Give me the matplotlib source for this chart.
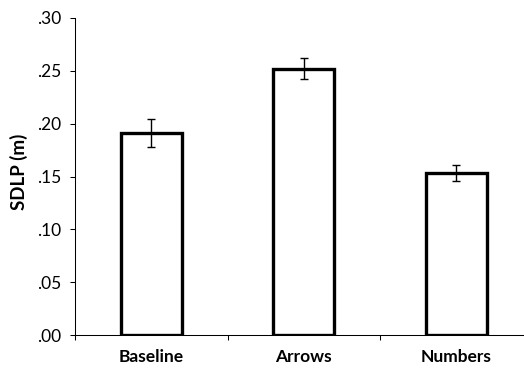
import matplotlib
matplotlib.use("Agg")
import matplotlib.pyplot as plt
from matplotlib.ticker import FixedLocator

plt.rcParams['font.family'] = ['Lato', 'DejaVu Sans']

# data
conditions = ['Baseline', 'Arrows', 'Numbers']
sdlp_mean = [0.191, 0.252, 0.153]
sdlp_err = [0.013, 0.010, 0.0077]
yticks = [0.00, 0.05, 0.10, 0.15, 0.20, 0.25, 0.30]
ytick_labels = ['.00', '.05', '.10', '.15', '.20', '.25', '.30']

fig = plt.figure(figsize=(5.24, 3.70), dpi=100)
ax = fig.add_axes([75 / 524, 35 / 370, 457.5 / 524, 317 / 370])

x = list(range(len(conditions)))
ax.bar(x, sdlp_mean, width=0.4, color='white', edgecolor='black',
       linewidth=2.4, zorder=2)
ax.errorbar(x, sdlp_mean, yerr=sdlp_err, fmt='none', ecolor='black',
            elinewidth=1.0, capsize=3.0, capthick=1.0, zorder=3)

ax.set_xlim(-0.5, 2.5)
ax.set_ylim(0, 0.30)
ax.set_yticks(yticks)
ax.set_yticklabels(ytick_labels)
ax.set_xticks(x)
ax.set_xticklabels(conditions, fontweight='bold')
ax.xaxis.set_minor_locator(FixedLocator([-0.5, 0.5, 1.5, 2.5]))

ax.tick_params(axis='x', which='major', length=0, pad=10, labelsize=12.5)
ax.tick_params(axis='x', which='minor', length=3.6, width=0.75,
               direction='out')
ax.tick_params(axis='y', length=3.6, width=0.75, pad=6.5, labelsize=12.5,
               direction='out')

ax.spines['top'].set_visible(False)
ax.spines['right'].set_visible(False)
for side in ['left', 'bottom']:
    ax.spines[side].set_linewidth(0.75)
    ax.spines[side].set_color('black')

ax.set_ylabel('SDLP (m)', fontweight='bold', fontsize=13.5)
ax.yaxis.set_label_coords(-0.103, 0.515)

fig.savefig('out.png', dpi=100)
